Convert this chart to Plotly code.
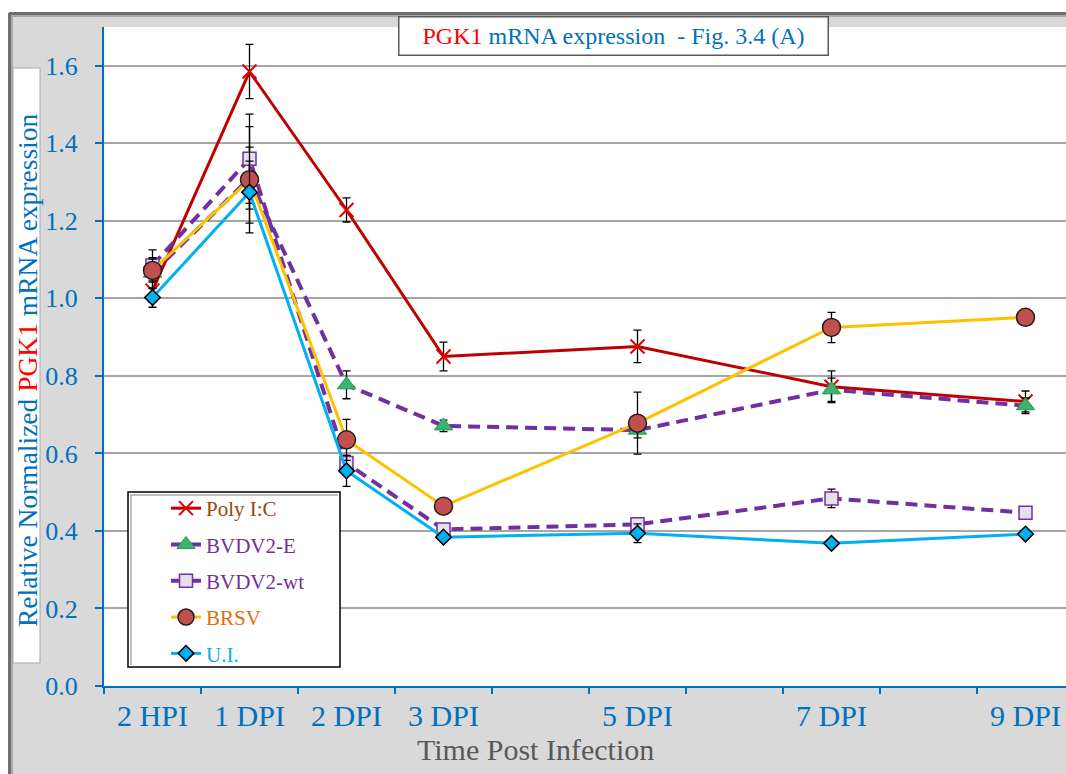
import plotly.graph_objects as go

# ---- data ----
x_pos = [0, 1, 2, 3, 5, 7, 9]
x_labels = ["2 HPI", "1 DPI", "2 DPI", "3 DPI", "5 DPI", "7 DPI", "9 DPI"]

poly = [1.02, 1.585, 1.228, 0.85, 0.876, 0.772, 0.734]
poly_err = [0.03, 0.07, 0.031, 0.037, 0.042, 0.041, 0.027]
bvdv_e = [1.065, 1.31, 0.777, 0.671, 0.66, 0.764, 0.723]
bvdv_e_err = [0.04, 0.08, 0.036, 0.015, 0.02, 0.03, 0.02]
bvdv_wt = [1.085, 1.36, 0.575, 0.404, 0.417, 0.484, 0.447]
bvdv_wt_err = [0.04, 0.115, 0.02, 0.01, 0.015, 0.024, 0.01]
brsv = [1.072, 1.306, 0.635, 0.464, 0.678, 0.925, 0.951]
brsv_err = [0.03, 0.137, 0.053, 0.01, 0.08, 0.039, 0.01]
ui = [1.002, 1.274, 0.555, 0.384, 0.394, 0.368, 0.392]
ui_err = [0.025, 0.08, 0.04, 0.01, 0.024, 0.005, 0.005]

FONT = "Liberation Serif"
BLUE = "#0070C0"
GREY_BG = "#D9D9D9"

# ---- layout geometry (pixels) ----
W, H = 1066, 774
L, R, T, B = 104, 1066, 27, 686


def px(x):
    return (x - L) / (R - L)


def py(y):
    return (B - y) / (B - T)


def err(arr):
    return dict(type="data", array=arr, color="black", thickness=1.3, width=4, visible=True)


fig = go.Figure()

fig.add_trace(go.Scatter(
    x=x_pos, y=poly, mode="lines+markers", error_y=err(poly_err),
    name="<span style='color:#984807'>Poly I:C</span>", legendgroup="a",
    line=dict(color="#C00000", width=3),
    marker=dict(symbol="x-thin", size=14, line=dict(color="#E00000", width=2), color="#E00000"),
))
fig.add_trace(go.Scatter(
    x=x_pos, y=bvdv_e, mode="lines+markers", error_y=err(bvdv_e_err),
    name="<span style='color:#7030A0'>BVDV2-E</span>", legendgroup="b",
    line=dict(color="#7030A0", width=4, dash="12px,7px"),
    marker=dict(symbol="triangle-up", size=16, color="#3CB371", line=dict(color="#1E9E50", width=1)),
))
fig.add_trace(go.Scatter(
    x=x_pos, y=bvdv_wt, mode="lines+markers", error_y=err(bvdv_wt_err),
    name="<span style='color:#7030A0'>BVDV2-wt</span>", legendgroup="c",
    line=dict(color="#7030A0", width=4, dash="12px,7px"),
    marker=dict(symbol="square", size=13, color="#E6E0EC", line=dict(color="#7030A0", width=1.5)),
))
fig.add_trace(go.Scatter(
    x=x_pos, y=brsv, mode="lines+markers", error_y=err(brsv_err),
    name="<span style='color:#E46C0A'>BRSV</span>", legendgroup="d",
    line=dict(color="#FFC000", width=3),
    marker=dict(symbol="circle", size=18, color="#C0504D", line=dict(color="#2b1a1a", width=1.5)),
))
fig.add_trace(go.Scatter(
    x=x_pos, y=ui, mode="lines+markers", error_y=err(ui_err),
    name="<span style='color:#00B0F0'>U.I.</span>", legendgroup="e",
    line=dict(color="#00B0F0", width=3),
    marker=dict(symbol="diamond", size=12, color="#00B0F0", line=dict(color="black", width=1.5)),
))

shapes = [
    # white page outside the chart frame (left strip and top strip)
    dict(type="rect", xref="paper", yref="paper", layer="below",
         x0=px(-20), x1=px(9), y0=py(-20), y1=py(800),
         fillcolor="white", line=dict(width=0)),
    dict(type="rect", xref="paper", yref="paper", layer="below",
         x0=px(-20), x1=px(1100), y0=py(-20), y1=py(12),
         fillcolor="white", line=dict(width=0)),
    # frame edges (top and left)
    dict(type="line", xref="paper", yref="paper", layer="below",
         x0=px(9), x1=px(1100), y0=py(13.5), y1=py(13.5),
         line=dict(color="#6F6F6F", width=3)),
    dict(type="line", xref="paper", yref="paper", layer="below",
         x0=px(9.5), x1=px(9.5), y0=py(13), y1=py(800),
         line=dict(color="#6F6F6F", width=3)),
    dict(type="line", xref="paper", yref="paper", layer="below",
         x0=px(11), x1=px(1100), y0=py(16), y1=py(16),
         line=dict(color="#A9A9A9", width=2)),
    dict(type="line", xref="paper", yref="paper", layer="below",
         x0=px(12), x1=px(12), y0=py(16), y1=py(800),
         line=dict(color="#A9A9A9", width=2)),
    # white box behind y-axis title
    dict(type="rect", xref="paper", yref="paper", layer="below",
         x0=px(13), x1=px(40), y0=py(68), y1=py(663),
         fillcolor="white", line=dict(color="#A6A6A6", width=1)),
    # legend box (with a soft shadow edge)
    dict(type="rect", xref="paper", yref="paper", layer="above",
         x0=px(128), x1=px(340), y0=py(492), y1=py(667),
         fillcolor="white", line=dict(color="black", width=1.5)),
    dict(type="line", xref="paper", yref="paper", layer="above",
         x0=px(131), x1=px(131), y0=py(494), y1=py(665),
         line=dict(color="#BFBFBF", width=2)),
    dict(type="line", xref="paper", yref="paper", layer="above",
         x0=px(130), x1=px(338), y0=py(495), y1=py(495),
         line=dict(color="#BFBFBF", width=2)),
]

annotations = [
    dict(text="<span style='color:#FF0000'>PGK1</span> mRNA expression  - Fig. 3.4 (A)",
         xref="paper", yref="paper", x=px(613.5), y=py(36), xanchor="center", yanchor="middle",
         showarrow=False, font=dict(family=FONT, size=24, color=BLUE),
         bgcolor="white", bordercolor="#595959", borderwidth=1.5, borderpad=0,
         width=428, height=37),
    dict(text="Relative Normalized <span style='color:#FF0000'>PGK1</span> mRNA expression",
         xref="paper", yref="paper", x=px(27), y=py(370), xanchor="center", yanchor="middle",
         textangle=-90, showarrow=False, font=dict(family=FONT, size=27.5, color=BLUE)),
    dict(text="Time Post Infection",
         xref="paper", yref="paper", x=px(535), y=py(750), xanchor="center", yanchor="middle",
         showarrow=False, font=dict(family=FONT, size=30, color="#595959")),
]

fig.update_layout(
    width=W, height=H,
    margin=dict(l=L, r=W - R, t=T, b=H - B, pad=0),
    paper_bgcolor=GREY_BG, plot_bgcolor="white",
    font=dict(family=FONT),
    shapes=shapes, annotations=annotations,
    showlegend=True,
    legend=dict(x=px(166), y=py(488), xanchor="left", yanchor="top",
                bgcolor="rgba(0,0,0,0)", borderwidth=0,
                traceorder="grouped", tracegroupgap=6,
                font=dict(family=FONT, size=21)),
)

fig.update_xaxes(
    range=[-0.5, 9.5 - (1074 - R) / 97.0],
    tickmode="array", tickvals=x_pos, ticktext=x_labels,
    ticks="", showgrid=False, zeroline=False,
    showline=True, linecolor=BLUE, linewidth=2,
    tickfont=dict(family=FONT, size=30, color=BLUE),
    ticklabelstandoff=2,
    minor=dict(tickmode="linear", tick0=-0.5, dtick=1, ticks="outside",
               ticklen=6, tickwidth=1.5, tickcolor=BLUE, showgrid=False),
)
fig.update_yaxes(
    range=[0, 1.7], tickmode="array",
    tickvals=[0, 0.2, 0.4, 0.6, 0.8, 1.0, 1.2, 1.4, 1.6],
    ticktext=["0.0", "0.2", "0.4", "0.6", "0.8", "1.0", "1.2", "1.4", "1.6"],
    ticks="outside", ticklen=7, tickwidth=1.5, tickcolor=BLUE,
    showgrid=True, gridcolor="#A6A6A6", gridwidth=1.5, zeroline=False,
    showline=True, linecolor=BLUE, linewidth=2,
    tickfont=dict(family=FONT, size=26, color=BLUE),
    ticklabelstandoff=12,
)

fig.write_html("out.html")
